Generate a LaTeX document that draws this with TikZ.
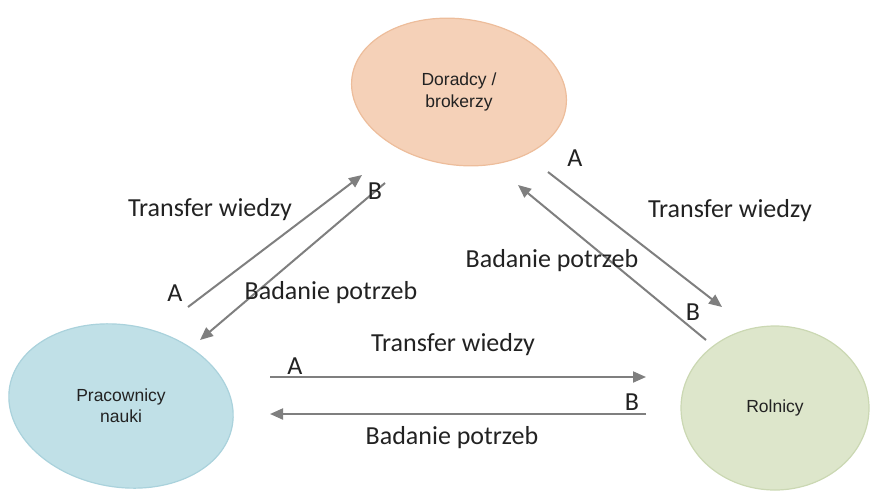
\documentclass[tikz,border=0pt]{standalone}
\usepackage{fontspec}
\setmainfont{Carlito}
\newfontfamily\arialf{Liberation Sans}
\usetikzlibrary{shapes.geometric,arrows.meta}
\definecolor{peachF}{HTML}{F5D1B8}
\definecolor{peachE}{HTML}{EDBD9B}
\definecolor{blueF}{HTML}{C0E0E7}
\definecolor{blueE}{HTML}{AAD2DC}
\definecolor{greenF}{HTML}{DDE6CB}
\definecolor{greenE}{HTML}{CBD8B3}
\definecolor{arrowgray}{HTML}{7F7F7F}
\definecolor{labelgray}{HTML}{222222}
\tikzset{
  blob/.style={ellipse, inner sep=0pt, font=\arialf\fontsize{17.5}{24}\selectfont, text=labelgray, align=center, line width=1.2pt},
  flow/.style={draw=arrowgray, line width=2pt, -{Triangle[length=13pt,width=11pt]}},
  lbl/.style={font=\fontsize{26}{30}\selectfont, text=labelgray, inner sep=0pt},
}
\begin{document}
\begin{tikzpicture}[x=1pt,y=-1pt]
\useasboundingbox (0,0) rectangle (873,493);
% nodes
\node[blob, draw=peachE, fill=peachF,
      minimum width=216pt, minimum height=146pt, rotate=-8] (dor) at (459,92) {\rotatebox{8}{\shortstack{Doradcy /\\[2pt]brokerzy}}};
\node[blob, draw=blueE, fill=blueF,
      minimum width=226pt, minimum height=162pt, rotate=-10] (pra) at (121,406) {\rotatebox{10}{\shortstack{Pracownicy\\[2pt]nauki}}};
\node[blob, draw=greenE, fill=greenF,
      minimum width=188pt, minimum height=164pt] (rol) at (775,408) {Rolnicy};
% end points
\coordinate (p1s) at (188,307); \coordinate (p1e) at (362,175);
\coordinate (p2s) at (385,183); \coordinate (p2e) at (200,340);
\coordinate (p3s) at (548,172); \coordinate (p3e) at (722,307);
\coordinate (p4s) at (706,340); \coordinate (p4e) at (518,185);
\coordinate (p5s) at (270,377); \coordinate (p5e) at (646,377);
\coordinate (p6s) at (646,414); \coordinate (p6e) at (270,414);
\draw[flow] (p1s) -- (p1e);
\draw[flow] (p2s) -- (p2e);
\draw[flow] (p3s) -- (p3e);
\draw[flow] (p4s) -- (p4e);
\draw[flow] (p5s) -- (p5e);
\draw[flow] (p6s) -- (p6e);
% labels
\node[lbl] (t1) at (210,210) {Transfer wiedzy};
\node[lbl] (b1) at (331,293) {Badanie potrzeb};
\node[lbl] (a1) at (175,293) {A};
\node[lbl] (bb1) at (375,191) {B};
\node[lbl] (t2) at (730,211) {Transfer wiedzy};
\node[lbl] (b2) at (552,261) {Badanie potrzeb};
\node[lbl] (a2) at (575,158) {A};
\node[lbl] (bb2) at (693,312) {B};
\node[lbl] (t3) at (453,345) {Transfer wiedzy};
\node[lbl] (b3) at (452,438) {Badanie potrzeb};
\node[lbl] (a3) at (295,366) {A};
\node[lbl] (bb3) at (632,402) {B};
\end{tikzpicture}
\end{document}
